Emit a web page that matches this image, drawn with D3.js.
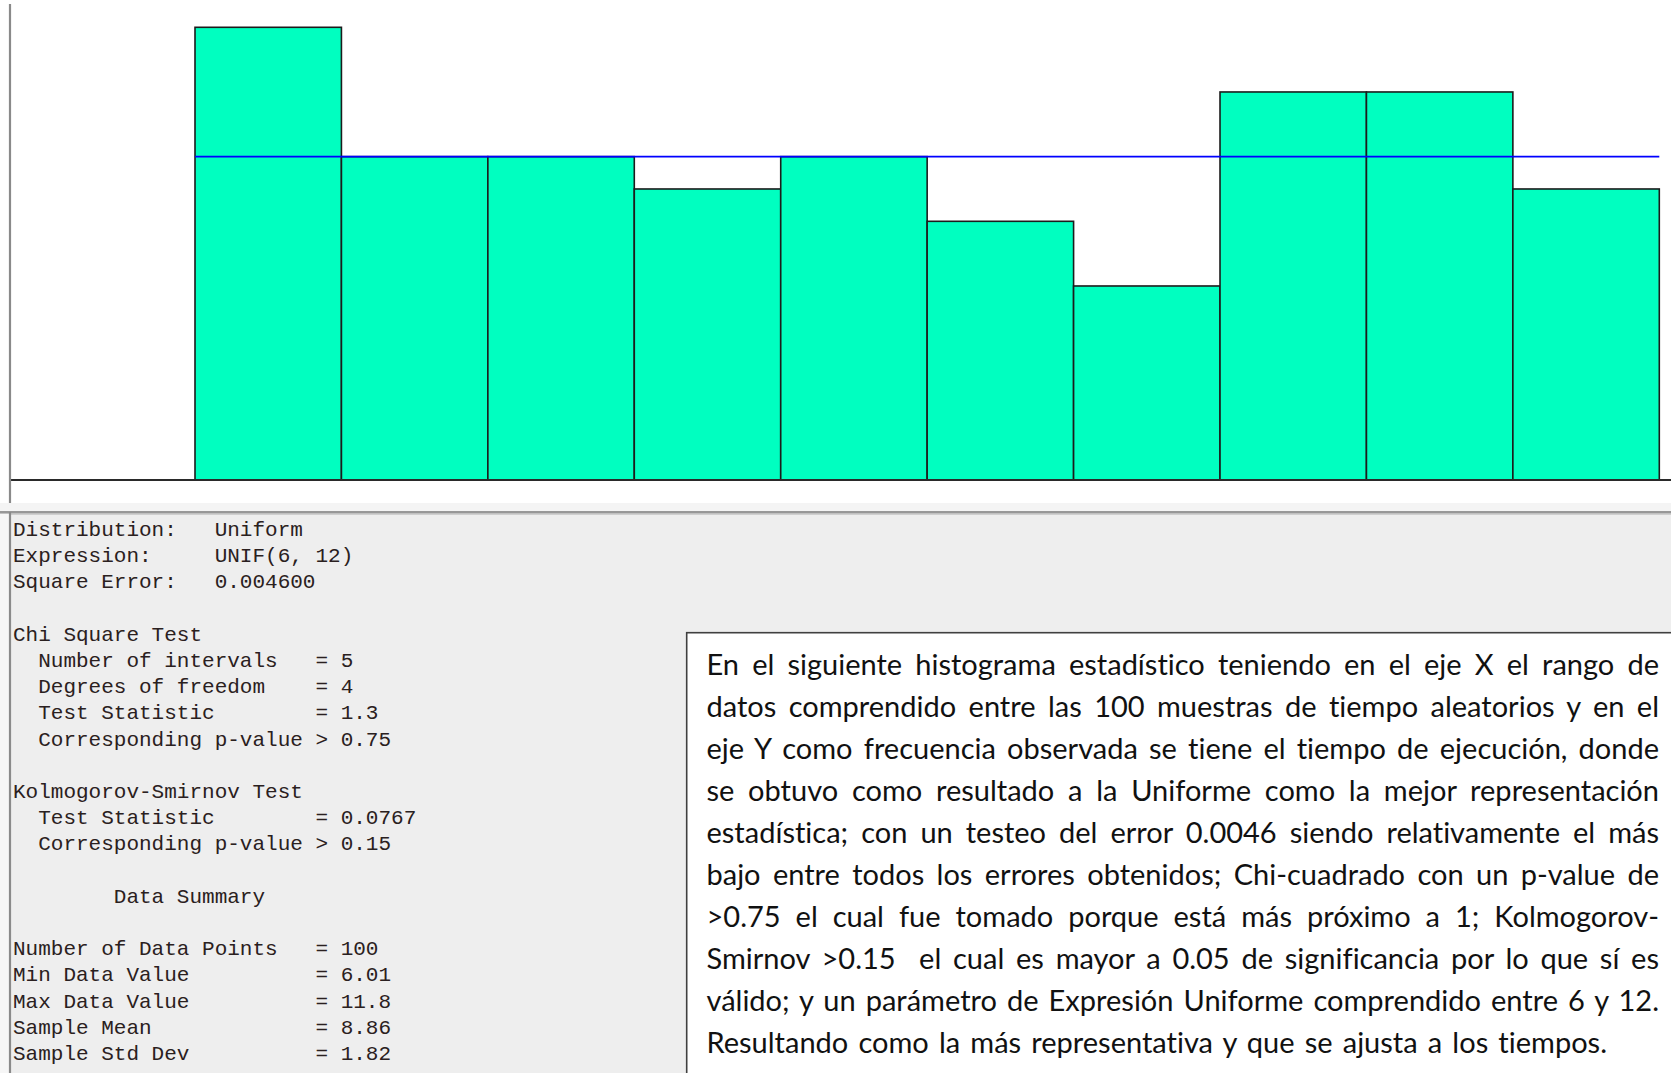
<!DOCTYPE html>
<html>
<head>
<meta charset="utf-8">
<script src="https://cdn.jsdelivr.net/npm/d3@7"></script>
<style>
  html, body { margin: 0; padding: 0; background: #ffffff; }
  svg { display: block; }
  .mono { font-family: "Liberation Mono", "Courier New", monospace; font-size: 21px; fill: #2a2020; white-space: pre; }
  .para { font-family: Lato, "Open Sans", sans-serif; font-size: 29px; fill: #111; white-space: pre;
          font-variant-ligatures: none; font-feature-settings: "liga" 0, "dlig" 0; }
</style>
</head>
<body>
<svg id="chart" width="1671" height="1073"></svg>
<script>
// Histogram of 100 execution-time samples, fitted with UNIF(6, 12)
const binLower = [6.0, 6.6, 7.2, 7.8, 8.4, 9.0, 9.6, 10.2, 10.8, 11.4];
const binWidth = 0.6;
const observed = [14, 10, 10, 9, 10, 8, 6, 12, 12, 9];
// Expected count per bin under the fitted uniform distribution
const fitted = [{ x: 6, y: 10 }, { x: 12, y: 10 }];

const summaryLines = [
  "Distribution:   Uniform",
  "Expression:     UNIF(6, 12)",
  "Square Error:   0.004600",
  "",
  "Chi Square Test",
  "  Number of intervals   = 5",
  "  Degrees of freedom    = 4",
  "  Test Statistic        = 1.3",
  "  Corresponding p-value > 0.75",
  "",
  "Kolmogorov-Smirnov Test",
  "  Test Statistic        = 0.0767",
  "  Corresponding p-value > 0.15",
  "",
  "        Data Summary",
  "",
  "Number of Data Points   = 100",
  "Min Data Value          = 6.01",
  "Max Data Value          = 11.8",
  "Sample Mean             = 8.86",
  "Sample Std Dev          = 1.82"
];

const paragraphLines = [
  "En el siguiente histograma estadístico teniendo en el eje X el rango de",
  "datos comprendido entre las 100 muestras de tiempo aleatorios y en el",
  "eje Y como frecuencia observada se tiene el tiempo de ejecución, donde",
  "se obtuvo como resultado a la Uniforme como la mejor representación",
  "estadística; con un testeo del error 0.0046 siendo relativamente el más",
  "bajo entre todos los errores obtenidos; Chi-cuadrado con un p-value de",
  ">0.75 el cual fue tomado porque está más próximo a 1; Kolmogorov-",
  "Smirnov >0.15  el cual es mayor a 0.05 de significancia por lo que sí es",
  "válido; y un parámetro de Expresión Uniforme comprendido entre 6 y 12.",
  "Resultando como la más representativa y que se ajusta a los tiempos."
];

const W = 1671, H = 1073;
const svg = d3.select("#chart");

// ---------- histogram window ----------
const x = d3.scaleLinear().domain([6, 12]).range([195, 1659.3]);
const y = d3.scaleLinear().domain([0, 14]).range([480, 27.3]);

svg.append("rect").attr("x", 0).attr("y", 0).attr("width", W).attr("height", 503).attr("fill", "#ffffff");

const bins = binLower.map((lo, i) => ({ lo, hi: lo + binWidth, count: observed[i] }));

svg.append("g")
  .selectAll("rect")
  .data(bins)
  .join("rect")
  .attr("x", d => x(d.lo))
  .attr("y", d => y(d.count))
  .attr("width", d => x(d.hi) - x(d.lo))
  .attr("height", d => y(0) - y(d.count))
  .attr("fill", "#00ffc0")
  .attr("stroke", "#1c1c1c")
  .attr("stroke-width", 1.6);

// fitted uniform density
svg.append("path")
  .datum(fitted)
  .attr("d", d3.line().x(d => x(d.x)).y(d => y(d.y)))
  .attr("fill", "none")
  .attr("stroke", "#0000ff")
  .attr("stroke-width", 1.8);

// x baseline
svg.append("line")
  .attr("x1", 10).attr("x2", W)
  .attr("y1", y(0)).attr("y2", y(0))
  .attr("stroke", "#2a2a2a").attr("stroke-width", 2);

// left frame edge of the plot window
svg.append("line")
  .attr("x1", 10).attr("x2", 10)
  .attr("y1", 4).attr("y2", 503)
  .attr("stroke", "#8a8a8a").attr("stroke-width", 2.2);

// ---------- splitter between the plot and the summary ----------
svg.append("rect").attr("x", 0).attr("y", 503).attr("width", W).attr("height", 9).attr("fill", "#f4f4f4");
svg.append("rect").attr("x", 0).attr("y", 512).attr("width", W).attr("height", H - 512).attr("fill", "#eeeeee");
svg.append("line").attr("x1", 0).attr("x2", W).attr("y1", 512).attr("y2", 512).attr("stroke", "#7a7a7a").attr("stroke-width", 1.5);
svg.append("line").attr("x1", 0).attr("x2", W).attr("y1", 513.8).attr("y2", 513.8).attr("stroke", "#b0b0b0").attr("stroke-width", 1.2);
svg.append("rect").attr("x", 0).attr("y", 514).attr("width", 9).attr("height", H - 514).attr("fill", "#f6f6f6");
svg.append("line")
  .attr("x1", 10).attr("x2", 10)
  .attr("y1", 512).attr("y2", H)
  .attr("stroke", "#8a8a8a").attr("stroke-width", 2.2);

// ---------- fit summary text ----------
svg.append("g")
  .selectAll("text")
  .data(summaryLines)
  .join("text")
  .attr("class", "mono")
  .attr("x", 13)
  .attr("y", (d, i) => 536 + i * 26.2)
  .text(d => d);

// ---------- explanatory note ----------
svg.append("rect")
  .attr("x", 686.7).attr("y", 632.7)
  .attr("width", W - 686.7 + 5).attr("height", H - 632.7 + 5)
  .attr("fill", "#ffffff")
  .attr("stroke", "#404040").attr("stroke-width", 1.6);

const textLeft = 706.5, textRight = 1659, lastRight = 1607;
const para = svg.append("g");
paragraphLines.forEach((line, i) => {
  const t = para.append("text")
    .attr("class", "para")
    .attr("x", textLeft)
    .attr("y", 675 + i * 42.0)
    .text(line);
  // justify by spreading the gap across word spaces
  const natural = t.node().getComputedTextLength();
  const target = (i === paragraphLines.length - 1 ? lastRight : textRight) - textLeft;
  const spaces = (line.match(/ /g) || []).length;
  if (spaces > 0) t.attr("word-spacing", (target - natural) / spaces);
});
</script>
</body>
</html>
